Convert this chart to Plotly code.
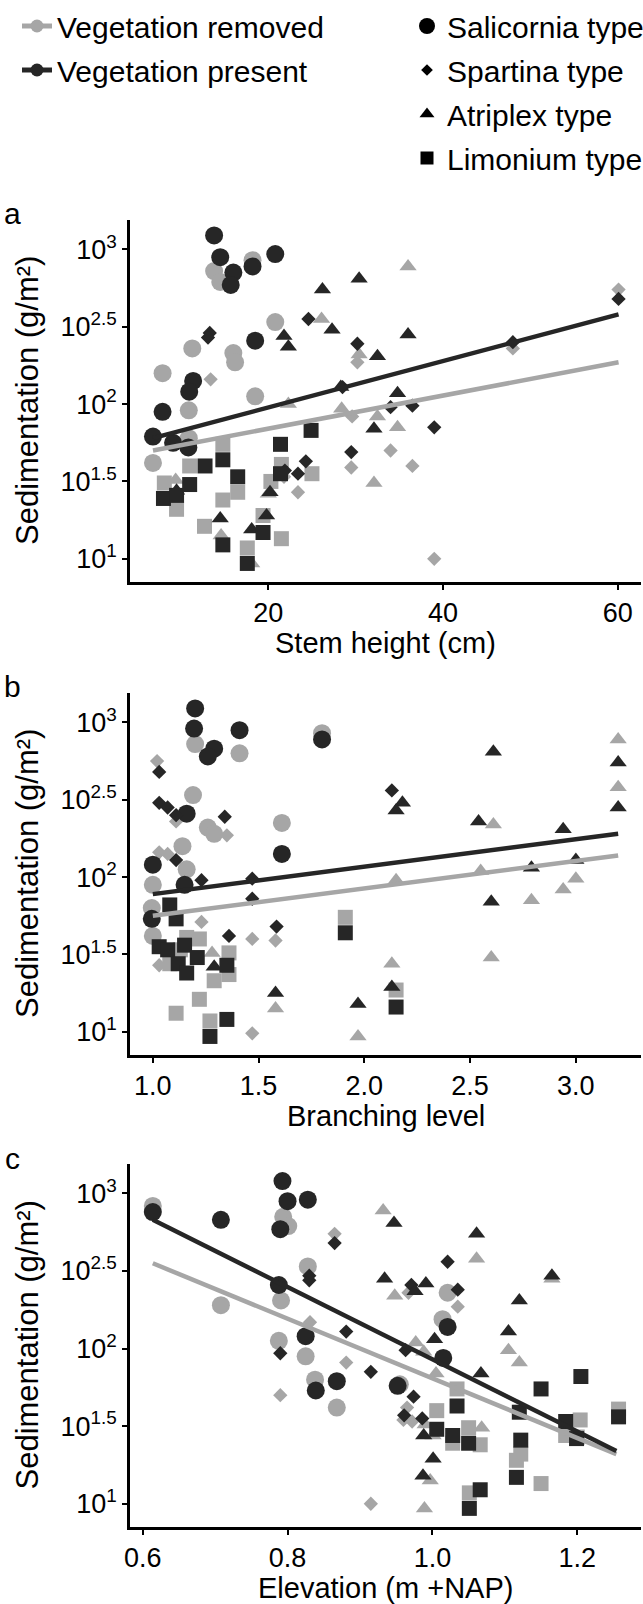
import plotly.graph_objects as go

# log10 sedimentation (g/m2) against each plant trait; pairs are (trait, log10 sed)
# panel a: stem height (cm)
a_removed_sal = [(18.2, 2.93), (13.8, 2.86), (14.5, 2.79), (20.8, 2.53), (11.3, 2.36), (16.0, 2.33),
                 (16.2, 2.27), (7.9, 2.20), (10.9, 1.96), (18.5, 2.05), (6.8, 1.62), (10.9, 1.78)]
a_removed_spa = [(13.4, 2.16), (23.4, 1.43), (21.8, 1.53), (29.5, 1.59), (29.6, 1.92), (30.2, 2.27),
                 (34.0, 1.70), (36.5, 1.60), (39.0, 1.00), (48.0, 2.36), (60.1, 2.74)]
a_removed_atr = [(26.1, 2.55), (22.3, 2.00), (28.4, 1.97), (9.4, 1.51), (14.6, 1.15), (18.1, 0.97),
                 (20.0, 1.42), (36.0, 2.89), (30.4, 2.32), (32.5, 1.92), (34.8, 1.85), (32.1, 1.49)]
a_removed_lim = [(8.1, 1.49), (11.0, 1.60), (9.5, 1.32), (14.8, 1.74), (14.8, 1.38), (16.5, 1.43),
                 (12.7, 1.21), (17.6, 1.07), (19.4, 1.28), (21.5, 1.61), (21.5, 1.13), (25.0, 1.55),
                 (20.3, 1.50)]
a_present_sal = [(13.8, 3.09), (14.5, 2.95), (16.0, 2.85), (15.7, 2.77), (18.2, 2.89), (20.8, 2.97),
                 (18.5, 2.41), (11.4, 2.15), (10.95, 2.08), (7.9, 1.95), (6.8, 1.79), (9.1, 1.75),
                 (10.85, 1.72)]
a_present_spa = [(13.3, 2.46), (13.1, 2.43), (24.6, 2.55), (21.9, 1.57), (24.3, 1.63), (23.4, 1.55),
                 (29.5, 1.69), (30.2, 2.39), (28.5, 2.11), (34.0, 1.98), (36.5, 1.99), (39.0, 1.85),
                 (48.0, 2.40), (60.1, 2.68)]
a_present_atr = [(26.2, 2.74), (27.3, 2.48), (21.8, 2.44), (22.3, 2.37), (30.4, 2.81), (28.3, 2.11),
                 (14.5, 1.26), (18.1, 1.19), (19.8, 1.28), (9.5, 1.44), (20.2, 1.43), (36.0, 2.45),
                 (32.5, 2.31), (34.8, 2.07), (32.1, 1.84)]
a_present_lim = [(8.0, 1.39), (9.5, 1.41), (11.0, 1.48), (12.76, 1.60), (14.8, 1.64), (16.5, 1.53),
                 (21.4, 1.74), (24.9, 1.83), (21.4, 1.55), (14.8, 1.09), (19.4, 1.17), (17.6, 0.97)]

# panel b: branching level
b_removed_sal = [(1.2, 2.86), (1.41, 2.80), (1.19, 2.53), (1.26, 2.32), (1.29, 2.28), (1.14, 2.20),
                 (1.16, 2.05), (1.0, 1.95), (0.995, 1.80), (1.0, 1.62), (1.61, 2.35), (1.80, 2.93)]
b_removed_spa = [(1.02, 2.75), (1.03, 2.16), (1.07, 2.15), (1.11, 2.36), (1.35, 2.27), (1.23, 1.71),
                 (1.47, 1.60), (1.58, 1.59), (1.03, 1.43), (1.47, 0.99)]
b_removed_atr = [(1.28, 1.51), (1.58, 1.15), (3.2, 2.89), (3.2, 2.58), (2.61, 2.34), (2.15, 1.98),
                 (2.55, 2.04), (3.0, 1.99), (2.94, 1.92), (2.79, 1.85), (2.60, 1.48), (2.13, 1.44),
                 (1.97, 0.97)]
b_removed_lim = [(1.16, 1.61), (1.22, 1.60), (1.13, 1.53), (1.08, 1.44), (1.29, 1.33), (1.36, 1.51),
                 (1.36, 1.37), (1.22, 1.21), (1.11, 1.12), (1.27, 1.07), (1.91, 1.74), (2.15, 1.27)]
b_present_sal = [(1.2, 3.09), (1.195, 2.96), (1.29, 2.83), (1.26, 2.78), (1.41, 2.95), (1.16, 2.41),
                 (1.0, 2.08), (1.15, 1.95), (0.995, 1.73), (1.61, 2.15), (1.80, 2.89)]
b_present_spa = [(1.03, 2.68), (1.03, 2.48), (1.07, 2.45), (1.11, 2.40), (1.34, 2.39), (1.11, 2.11),
                 (1.23, 1.98), (1.47, 1.99), (1.47, 1.86), (1.36, 1.62), (1.585, 1.68), (2.13, 2.56)]
b_present_atr = [(1.29, 1.42), (1.58, 1.25), (2.61, 2.81), (3.2, 2.74), (3.2, 2.45), (2.18, 2.48),
                 (2.15, 2.43), (2.54, 2.36), (2.94, 2.31), (2.79, 2.06), (3.0, 2.11), (2.60, 1.84),
                 (2.13, 1.29), (1.97, 1.18)]
b_present_lim = [(1.08, 1.82), (1.11, 1.73), (1.03, 1.55), (1.07, 1.53), (1.15, 1.56), (1.21, 1.48),
                 (1.12, 1.44), (1.16, 1.38), (1.35, 1.43), (1.35, 1.08), (1.27, 0.97), (1.91, 1.64),
                 (2.15, 1.16)]

# panel c: elevation (m +NAP)
c_removed_sal = [(0.614, 2.92), (0.794, 2.85), (0.801, 2.79), (0.828, 2.53), (0.791, 2.31), (0.708, 2.28),
                 (0.788, 2.05), (0.825, 1.95), (0.838, 1.80), (0.868, 1.62), (1.021, 2.36), (1.014, 2.19),
                 (0.955, 1.77)]
c_removed_spa = [(0.865, 2.74), (0.831, 2.17), (0.881, 1.91), (0.79, 1.70), (0.915, 1.00), (1.035, 2.27),
                 (0.967, 2.36), (0.965, 1.62), (0.972, 1.53), (0.96, 1.54)]
c_removed_atr = [(0.932, 2.89), (1.061, 2.58), (0.948, 2.34), (1.165, 2.45), (1.105, 1.99), (1.12, 1.91),
                 (0.977, 2.04), (0.988, 1.98), (1.005, 1.84), (1.068, 1.49), (0.99, 1.51), (1.001, 1.44),
                 (0.997, 1.15), (0.989, 0.97)]
c_removed_lim = [(1.034, 1.74), (1.006, 1.60), (1.028, 1.39), (1.05, 1.49), (1.066, 1.38), (1.122, 1.32),
                 (1.116, 1.28), (1.15, 1.13), (1.051, 1.07), (1.184, 1.44), (1.204, 1.54), (1.257, 1.61),
                 (1.2, 1.43)]
c_present_sal = [(0.614, 2.88), (0.708, 2.83), (0.793, 3.08), (0.8, 2.95), (0.828, 2.96), (0.79, 2.77),
                 (0.788, 2.41), (0.825, 2.08), (0.839, 1.73), (0.868, 1.79), (1.021, 2.14), (1.015, 1.94),
                 (0.952, 1.76)]
c_present_spa = [(0.865, 2.68), (0.83, 2.47), (0.83, 2.44), (0.881, 2.11), (0.79, 1.97), (0.915, 1.85),
                 (1.021, 2.56), (1.035, 2.38), (0.971, 2.41), (0.963, 1.99), (0.974, 1.69), (0.961, 1.57),
                 (0.986, 1.55)]
c_present_atr = [(0.947, 2.81), (1.061, 2.74), (0.934, 2.45), (0.976, 2.37), (0.991, 2.42), (1.165, 2.47),
                 (1.12, 2.31), (1.105, 2.11), (1.003, 2.06), (1.067, 1.84), (0.988, 1.44), (1.001, 1.29),
                 (0.987, 1.18)]
c_present_lim = [(1.205, 1.82), (1.15, 1.74), (1.034, 1.63), (1.006, 1.48), (1.028, 1.44), (1.05, 1.39),
                 (1.12, 1.59), (1.122, 1.41), (1.116, 1.17), (1.066, 1.09), (1.051, 0.97), (1.184, 1.53),
                 (1.199, 1.42), (1.257, 1.56)]

# fitted lines (ends)
a_fit_x = [6.8, 60.1]
a_fit_removed = [1.70, 2.27]
a_fit_present = [1.78, 2.58]
b_fit_x = [1.0, 3.2]
b_fit_removed = [1.75, 2.14]
b_fit_present = [1.89, 2.28]
c_fit_x = [0.614, 1.254]
c_fit_removed = [2.55, 1.32]
c_fit_present = [2.83, 1.34]

x_titles = ["Stem height (cm)", "Branching level", "Elevation (m +NAP)"]
panel_letters = ["a", "b", "c"]
y_tickvals = [1, 1.5, 2, 2.5, 3]
y_ticktext = ["10<sup>1</sup>", "10<sup>1.5</sup>", "10<sup>2</sup>", "10<sup>2.5</sup>", "10<sup>3</sup>"]

GREY = "#a6a6a6"
DARK = "#262626"
FONT = "Liberation Sans"
W, H = 643, 1604

symbols = {"sal": "circle", "spa": "diamond", "atr": "triangle-up", "lim": "square"}
sizes = {"sal": 18, "spa": 11, "atr": 15, "lim": 15}

panels = [
    dict(groups={("removed", "sal"): a_removed_sal, ("removed", "spa"): a_removed_spa,
                 ("removed", "atr"): a_removed_atr, ("removed", "lim"): a_removed_lim,
                 ("present", "sal"): a_present_sal, ("present", "spa"): a_present_spa,
                 ("present", "atr"): a_present_atr, ("present", "lim"): a_present_lim},
         fx=a_fit_x, fr=a_fit_removed, fp=a_fit_present,
         xr=[4.17, 62.67], tv=[20, 40, 60], tt=["20", "40", "60"], top=220, bot=582),
    dict(groups={("removed", "sal"): b_removed_sal, ("removed", "spa"): b_removed_spa,
                 ("removed", "atr"): b_removed_atr, ("removed", "lim"): b_removed_lim,
                 ("present", "sal"): b_present_sal, ("present", "spa"): b_present_spa,
                 ("present", "atr"): b_present_atr, ("present", "lim"): b_present_lim},
         fx=b_fit_x, fr=b_fit_removed, fp=b_fit_present,
         xr=[0.892, 3.308], tv=[1.0, 1.5, 2.0, 2.5, 3.0], tt=["1.0", "1.5", "2.0", "2.5", "3.0"],
         top=693, bot=1055),
    dict(groups={("removed", "sal"): c_removed_sal, ("removed", "spa"): c_removed_spa,
                 ("removed", "atr"): c_removed_atr, ("removed", "lim"): c_removed_lim,
                 ("present", "sal"): c_present_sal, ("present", "spa"): c_present_spa,
                 ("present", "atr"): c_present_atr, ("present", "lim"): c_present_lim},
         fx=c_fit_x, fr=c_fit_removed, fp=c_fit_present,
         xr=[0.5825, 1.288], tv=[0.6, 0.8, 1.0, 1.2], tt=["0.6", "0.8", "1.0", "1.2"],
         top=1164, bot=1527),
]

fig = go.Figure()
annotations = []
layout_axes = {}
x_left, x_right = 130, 641

for i, p in enumerate(panels):
    n = "" if i == 0 else str(i + 1)
    xa, ya = "x" + n, "y" + n
    for (veg, typ), pts in p["groups"].items():
        fig.add_trace(go.Scatter(
            x=[v[0] for v in pts], y=[v[1] for v in pts], xaxis=xa, yaxis=ya,
            mode="markers", showlegend=False, hoverinfo="skip",
            marker=dict(symbol=symbols[typ], size=sizes[typ],
                        color=GREY if veg == "removed" else DARK, line=dict(width=0))))
    fig.add_trace(go.Scatter(x=p["fx"], y=p["fr"], xaxis=xa, yaxis=ya, mode="lines",
                             line=dict(color=GREY, width=4.5), showlegend=False, hoverinfo="skip"))
    fig.add_trace(go.Scatter(x=p["fx"], y=p["fp"], xaxis=xa, yaxis=ya, mode="lines",
                             line=dict(color=DARK, width=4.5), showlegend=False, hoverinfo="skip"))

    ydom = [1 - p["bot"] / H, 1 - p["top"] / H]
    axis_common = dict(showline=True, linecolor="black", linewidth=2.5, ticks="outside",
                       ticklen=5, tickwidth=2, tickcolor="black", showgrid=False, zeroline=False,
                       automargin=False, tickfont=dict(family=FONT, size=27, color="black"))
    layout_axes["xaxis" + n] = dict(axis_common, domain=[x_left / W, x_right / W], anchor=ya,
                                    range=p["xr"], tickvals=p["tv"], ticktext=p["tt"])
    layout_axes["yaxis" + n] = dict(axis_common, domain=ydom, anchor=xa, range=[0.85, 3.19],
                                    tickvals=y_tickvals, ticktext=y_ticktext)

    annotations.append(dict(text=x_titles[i], x=(x_left + x_right) / 2 / W, y=1 - (p["bot"] + 61) / H,
                            xref="paper", yref="paper", showarrow=False, xanchor="center", yanchor="middle",
                            font=dict(family=FONT, size=29, color="black")))
    annotations.append(dict(text="Sedimentation (g/m²)", x=27 / W, y=1 - (p["top"] + p["bot"]) / 2 / H,
                            xref="paper", yref="paper", showarrow=False, textangle=-90,
                            xanchor="center", yanchor="middle",
                            font=dict(family=FONT, size=31, color="black")))
    annotations.append(dict(text=panel_letters[i], x=12 / W, y=1 - (p["top"] - 6) / H,
                            xref="paper", yref="paper", showarrow=False, xanchor="center",
                            yanchor="middle", font=dict(family=FONT, size=30, color="black")))

# legend entries
fig.add_trace(go.Scatter(x=[None], y=[None], mode="lines+markers", name="Vegetation removed",
                         line=dict(color=GREY, width=5), marker=dict(color=GREY, size=13),
                         legend="legend", legendgroup="r"))
fig.add_trace(go.Scatter(x=[None], y=[None], mode="lines+markers", name="Vegetation present",
                         line=dict(color=DARK, width=5), marker=dict(color=DARK, size=13),
                         legend="legend", legendgroup="p"))
type_names = {"sal": "Salicornia type", "spa": "Spartina type", "atr": "Atriplex type", "lim": "Limonium type"}
for typ, name in type_names.items():
    fig.add_trace(go.Scatter(x=[None], y=[None], mode="markers", name=name,
                             marker=dict(symbol=symbols[typ], color="black", size=sizes[typ] - 2),
                             legend="legend2", legendgroup=typ))

legend_font = dict(family=FONT, size=30, color="black")
fig.update_layout(
    width=W, height=H, margin=dict(l=0, r=0, t=0, b=0, autoexpand=False),
    plot_bgcolor="white", paper_bgcolor="white",
    annotations=annotations,
    legend=dict(x=17 / W, y=1.0, xanchor="left", yanchor="top", font=legend_font,
                tracegroupgap=2, itemwidth=30, bgcolor="rgba(0,0,0,0)"),
    legend2=dict(x=407 / W, y=1.0, xanchor="left", yanchor="top", font=legend_font,
                 tracegroupgap=2, itemwidth=30, bgcolor="rgba(0,0,0,0)"),
    **layout_axes,
)

# page margin off so the figure fills the window exactly
fig.write_html("out.html", config={"displayModeBar": False},
               post_script="document.body.style.margin='0';document.body.style.overflow='hidden';")
